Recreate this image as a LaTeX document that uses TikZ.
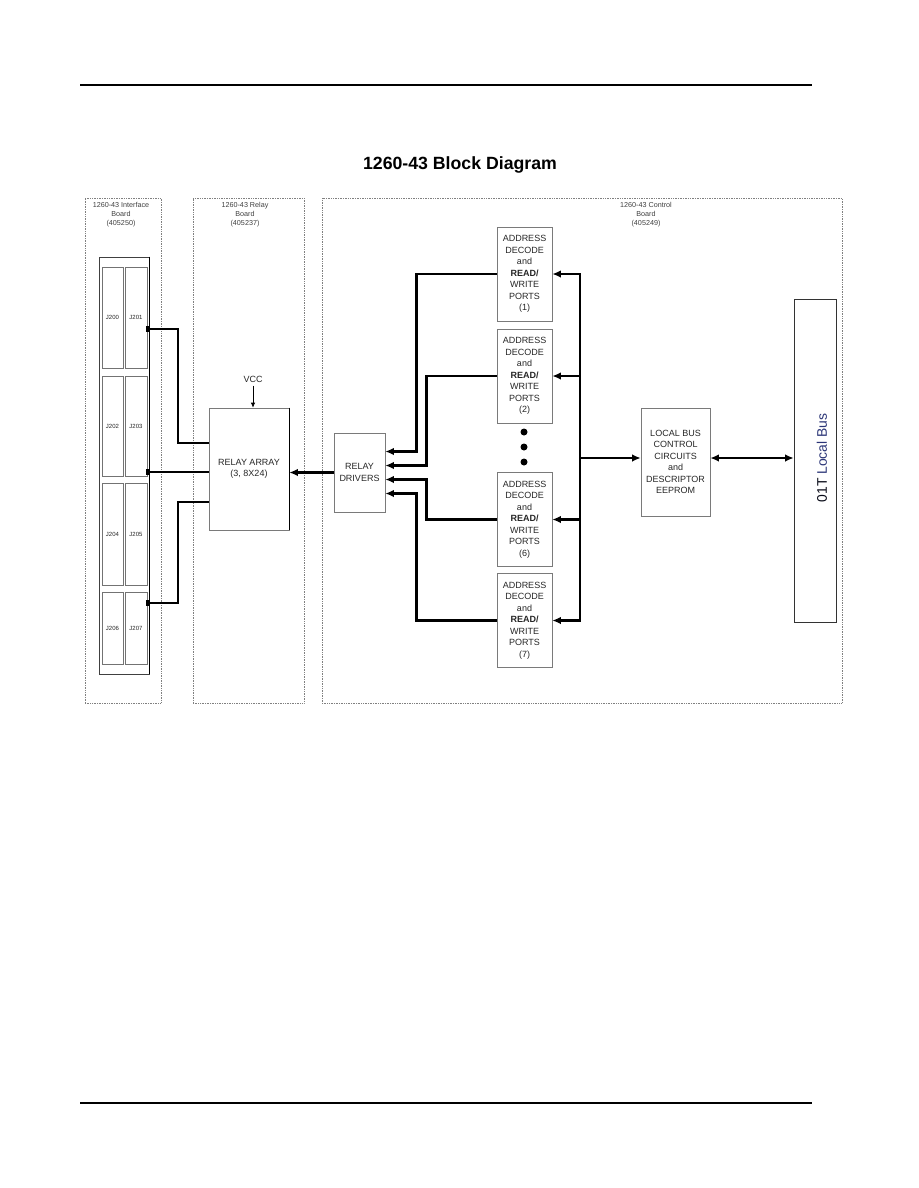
\documentclass[tikz,border=0pt]{standalone}
\usepackage{fontspec}
\setmainfont{Liberation Sans}
\usetikzlibrary{arrows.meta,positioning,calc}
\definecolor{BusNavy}{HTML}{2B3577}
\definecolor{BoxGrey}{HTML}{7A7A7A}
\newcommand{\portlabel}[1]{ADDRESS\\DECODE\\and\\\textbf{READ/}\\WRITE\\PORTS\\(#1)}

\begin{document}
\begin{tikzpicture}[x=1pt, y=-1pt, >={Latex[length=8.5pt,width=7.5pt]},
    every node/.style={font=\fontsize{9}{11.5}\selectfont, text=black!85},
    blk/.style={draw=BoxGrey, line width=0.6pt, inner sep=0pt, align=center},
    board/.style={draw=gray, line width=0.6pt, dash pattern=on 0.8pt off 0.9pt},
    boardlbl/.style={align=center, font=\fontsize{7.2}{9}\selectfont, text=black!75},
    jbox/.style={draw=gray!90!black, line width=0.6pt, inner sep=0pt, font=\fontsize{6}{7}\selectfont},
    dotmark/.style={circle, fill=black, inner sep=0pt, minimum size=7pt},
    wire/.style={line width=2.4pt}]
        \useasboundingbox (0,0) rectangle (918,1188);
        % page rules and title
        \draw[line width=2pt] (80,85) -- (812,85);
        \draw[line width=2pt] (80,1103) -- (812,1103);
        \node[font=\fontsize{17.7}{20}\selectfont\bfseries, text=black] (title) at (460,165) {1260-43 Block Diagram};

        % boards
        \node[board, minimum width=76pt, minimum height=505pt] (ifboard) at (123,450.5) {};
        \node[board, minimum width=111pt, minimum height=505pt] (rlboard) at (248.5,450.5) {};
        \node[board, minimum width=520pt, minimum height=505pt] (ctboard) at (582,450.5) {};
        \node[boardlbl] (iflbl) at (121,215) {1260-43 Interface\\Board\\(405250)};
        \node[boardlbl] (rllbl) at (245,215) {1260-43 Relay\\Board\\(405237)};
        \node[boardlbl] (ctlbl) at (646,215) {1260-43 Control\\Board\\(405249)};

        % connector panel
        \node[draw=black!75, line width=0.7pt, minimum width=50pt, minimum height=417pt, inner sep=0pt] (panel) at (124,465.5) {};
        \draw[line width=0.9pt] (panel.north east) -- (panel.south east);
        \node[jbox, minimum width=21pt, minimum height=101pt] (j200) at (112.5,317.5) {J200};
        \node[jbox, minimum width=22pt, minimum height=101pt] (j201) at (136,317.5) {J201};
        \node[jbox, minimum width=21pt, minimum height=100pt] (j202) at (112.5,426) {J202};
        \node[jbox, minimum width=22pt, minimum height=100pt] (j203) at (136,426) {J203};
        \node[jbox, minimum width=21pt, minimum height=102pt] (j204) at (112.5,534) {J204};
        \node[jbox, minimum width=22pt, minimum height=102pt] (j205) at (136,534) {J205};
        \node[jbox, minimum width=21pt, minimum height=72pt] (j206) at (112.5,628) {J206};
        \node[jbox, minimum width=22pt, minimum height=72pt] (j207) at (136,628) {J207};

        % relay board
        \node[blk, minimum width=80pt, minimum height=122pt] (relarr) at (249,469) {RELAY ARRAY\\(3, 8X24)};
        \draw[line width=1pt] (relarr.north east) -- (relarr.south east);
        \node (vcc) at (253,379) {VCC};
        \draw[line width=0.7pt, -{Latex[length=5pt,width=4.5pt]}] (vcc.south) -- (vcc.south |- relarr.north);

        % control board
        \node[blk, minimum width=51pt, minimum height=79pt] (reldrv) at (359.5,472.5) {RELAY\\DRIVERS};
        \node[blk, minimum width=55pt, minimum height=94pt] (adr1) at (524.5,274) {\portlabel{1}};
        \node[blk, minimum width=55pt, minimum height=94pt] (adr2) at (524.5,376) {\portlabel{2}};
        \node[blk, minimum width=55pt, minimum height=94pt] (adr6) at (524.5,519.5) {\portlabel{6}};
        \node[blk, minimum width=55pt, minimum height=94pt] (adr7) at (524.5,620.5) {\portlabel{7}};
        \node[dotmark] (dot1) at (524,432) {};
        \node[dotmark] (dot2) at (524,447) {};
        \node[dotmark] (dot3) at (524,462) {};
        \node[blk, minimum width=69pt, minimum height=108pt] (lbc) at (675.5,462) {LOCAL BUS\\CONTROL\\CIRCUITS\\and\\DESCRIPTOR\\EEPROM};
        \node[blk, draw=black!80, minimum width=42pt, minimum height=323pt] (bus01t) at (815,460.5) {};
        \node[rotate=90, font=\fontsize{13.9}{16}\selectfont] (buslbl) at (822,458) {{\color{black!80!BusNavy}01T} {\color{BusNavy}Local Bus}};

        % panel to relay array
        \coordinate (p1) at (149,329);
        \coordinate (p2) at (149,472);
        \coordinate (p3) at (149,603);
        \fill ([xshift=-3.5pt,yshift=3pt]p1) rectangle ([yshift=-3pt]p1);
        \fill ([xshift=-3.5pt,yshift=3pt]p2) rectangle ([yshift=-3pt]p2);
        \fill ([xshift=-3.5pt,yshift=3pt]p3) rectangle ([yshift=-3pt]p3);
        \draw[wire] (p1) -| ([xshift=-31pt,yshift=26pt]relarr.west) -- ([yshift=26pt]relarr.west);
        \draw[wire] (p2) -- (p2 -| relarr.west);
        \draw[wire] (p3) -| ([xshift=-31pt,yshift=-33pt]relarr.west) -- ([yshift=-33pt]relarr.west);
        \draw[wire,->] (reldrv.west) -- (reldrv.west -| relarr.east);

        % ports to relay drivers
        \draw[wire,->] (adr1.west) -| ([xshift=31pt,yshift=21pt]reldrv.east) -- ([yshift=21pt]reldrv.east);
        \draw[wire,->] (adr2.west) -| ([xshift=41pt,yshift=7pt]reldrv.east) -- ([yshift=7pt]reldrv.east);
        \draw[wire,->] (adr6.west) -| ([xshift=41pt,yshift=-7pt]reldrv.east) -- ([yshift=-7pt]reldrv.east);
        \draw[wire,->] (adr7.west) -| ([xshift=31pt,yshift=-21pt]reldrv.east) -- ([yshift=-21pt]reldrv.east);

        % local bus side
        \coordinate (bustop) at (580,274);
        \coordinate (busmid) at (580,458);
        \coordinate (busbot) at (580,620.5);
        \draw[wire,<->] (adr1.east) -- (bustop) -- (busbot) -- (adr7.east);
        \draw[wire,->] (adr2.east -| bustop) -- (adr2.east);
        \draw[wire,->] (adr6.east -| bustop) -- (adr6.east);
        \draw[wire,->] (busmid) -- (busmid -| lbc.west);
        \draw[wire,<->] (busmid -| lbc.east) -- (busmid -| bus01t.west);
      \end{tikzpicture}
\end{document}
